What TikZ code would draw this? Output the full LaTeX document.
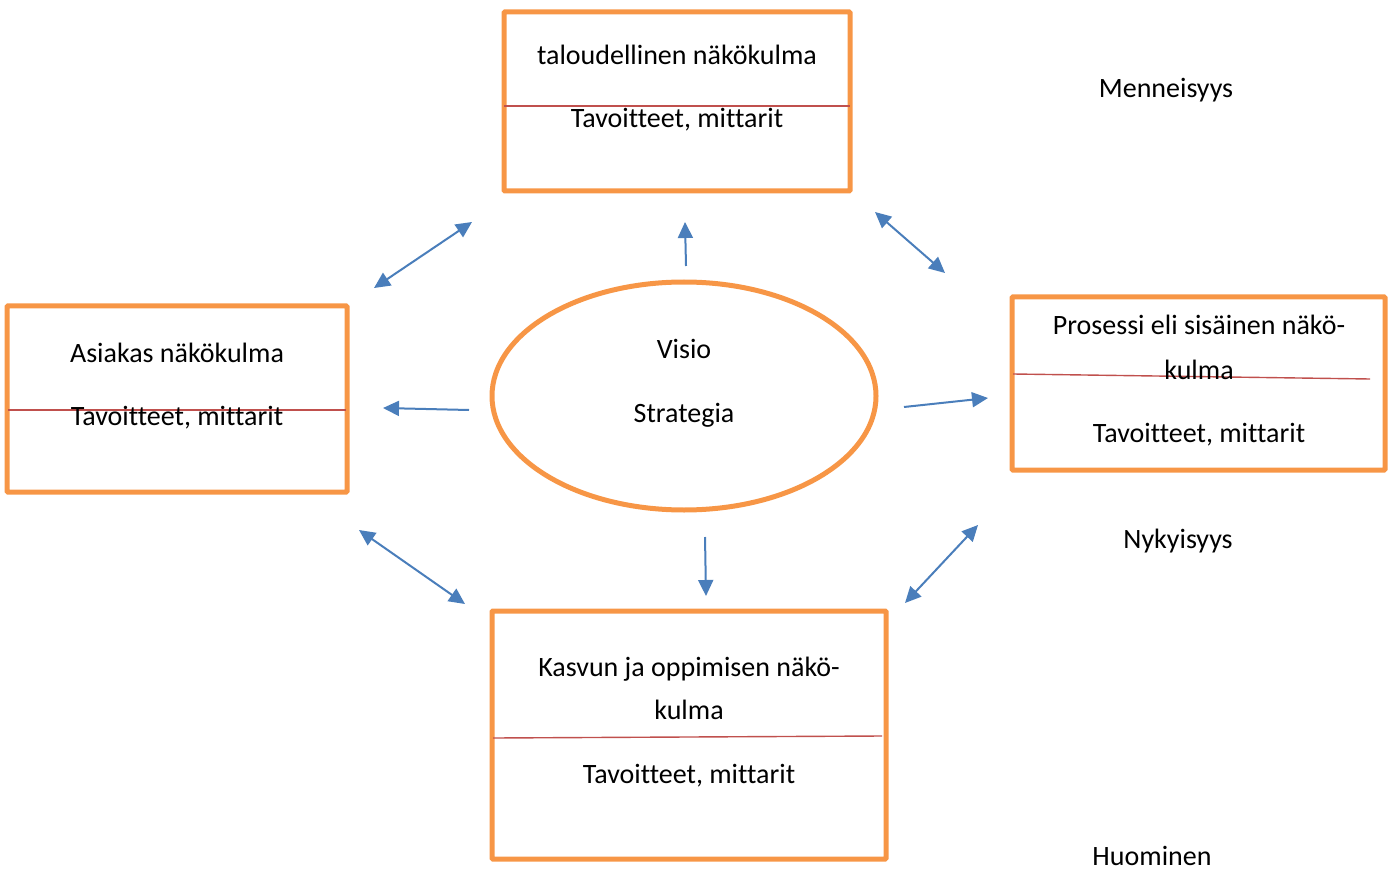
\documentclass[tikz,border=0pt]{standalone}
\usepackage{fontspec}
\setmainfont{Carlito}[Ligatures=NoCommon]
\usetikzlibrary{arrows.meta,shapes.geometric}
\definecolor{boxorange}{HTML}{F79646}
\definecolor{arrowblue}{HTML}{4A7EBB}
\definecolor{linered}{HTML}{C0504D}
\tikzset{
  box/.style={draw=boxorange, line width=2.5pt, rectangle, inner sep=0pt, rounded corners=0.5pt},
  oval/.style={draw=boxorange, line width=2.5pt, ellipse, inner sep=0pt},
  txt/.style={anchor=base, inner sep=0pt, font=\fontsize{14}{16}\selectfont},
  divider/.style={draw=linered, line width=0.7pt},
  arr/.style={draw=arrowblue, line width=1pt, -{Triangle[length=8pt,width=7.5pt]}},
  darr/.style={draw=arrowblue, line width=1pt, {Triangle[length=8pt,width=7.5pt]}-{Triangle[length=8pt,width=7.5pt]}}
}
\begin{document}
\begin{tikzpicture}[x=0.5pt,y=-0.5pt]
\useasboundingbox (0,0) rectangle (1395,871);
% boxes
\node[box, minimum width=173pt, minimum height=89.5pt] (top) at (677,101.5) {};
\node[box, minimum width=170pt, minimum height=93pt] (left) at (177,399) {};
\node[box, minimum width=186.5pt, minimum height=86.5pt] (right) at (1198.5,383.5) {};
\node[box, minimum width=197pt, minimum height=124pt] (bottom) at (689,735) {};
\node[oval, minimum width=192pt, minimum height=114pt] (vision) at (684,396) {};
% dividers
\coordinate (tdl) at (504,106); \coordinate (tdr) at (850,106);
\draw[divider] (tdl) -- (tdr);
\coordinate (ldl) at (8,410); \coordinate (ldr) at (346,410);
\draw[divider] (ldl) -- (ldr);
\coordinate (rdl) at (1013,374); \coordinate (rdr) at (1370,379);
\draw[divider] (rdl) -- (rdr);
\coordinate (bdl) at (493,738); \coordinate (bdr) at (882,736);
\draw[divider] (bdl) -- (bdr);
% texts
\node[txt] (t1) at (677,65) {taloudellinen näkökulma};
\node[txt] (t2) at (677,128) {Tavoitteet, mittarit};
\node[txt] (l1) at (177,362) {Asiakas näkökulma};
\node[txt] (l2) at (177,425) {Tavoitteet, mittarit};
\node[txt] (r1) at (1199,335) {Prosessi eli sisäinen näkö-};
\node[txt] (r2) at (1199,379) {kulma};
\node[txt] (r3) at (1199,442) {Tavoitteet, mittarit};
\node[txt] (b1) at (689,676) {Kasvun ja oppimisen näkö-};
\node[txt] (b2) at (689,719) {kulma};
\node[txt] (b3) at (689,783) {Tavoitteet, mittarit};
\node[txt] (v1) at (684,358) {Visio};
\node[txt] (v2) at (684,422) {Strategia};
\node[txt] (m1) at (1166,98) {Menneisyys};
\node[txt] (m2) at (1178,548) {Nykyisyys};
\node[txt] (m3) at (1152,865) {Huominen};
% arrow endpoints
\coordinate (a1s) at (374,288); \coordinate (a1e) at (472,222);
\coordinate (a2s) at (686,266); \coordinate (a2e) at (685,222);
\coordinate (a3s) at (875,212); \coordinate (a3e) at (945,273);
\coordinate (a4s) at (469,410); \coordinate (a4e) at (383,408);
\coordinate (a5s) at (904,407); \coordinate (a5e) at (988,398);
\coordinate (a6s) at (359,530); \coordinate (a6e) at (465,604);
\coordinate (a7s) at (705,537); \coordinate (a7e) at (706,596);
\coordinate (a8s) at (978,525); \coordinate (a8e) at (905,603);
\draw[darr] (a1s) -- (a1e);
\draw[arr] (a2s) -- (a2e);
\draw[darr] (a3s) -- (a3e);
\draw[arr] (a4s) -- (a4e);
\draw[arr] (a5s) -- (a5e);
\draw[darr] (a6s) -- (a6e);
\draw[arr] (a7s) -- (a7e);
\draw[darr] (a8s) -- (a8e);
\end{tikzpicture}
\end{document}
